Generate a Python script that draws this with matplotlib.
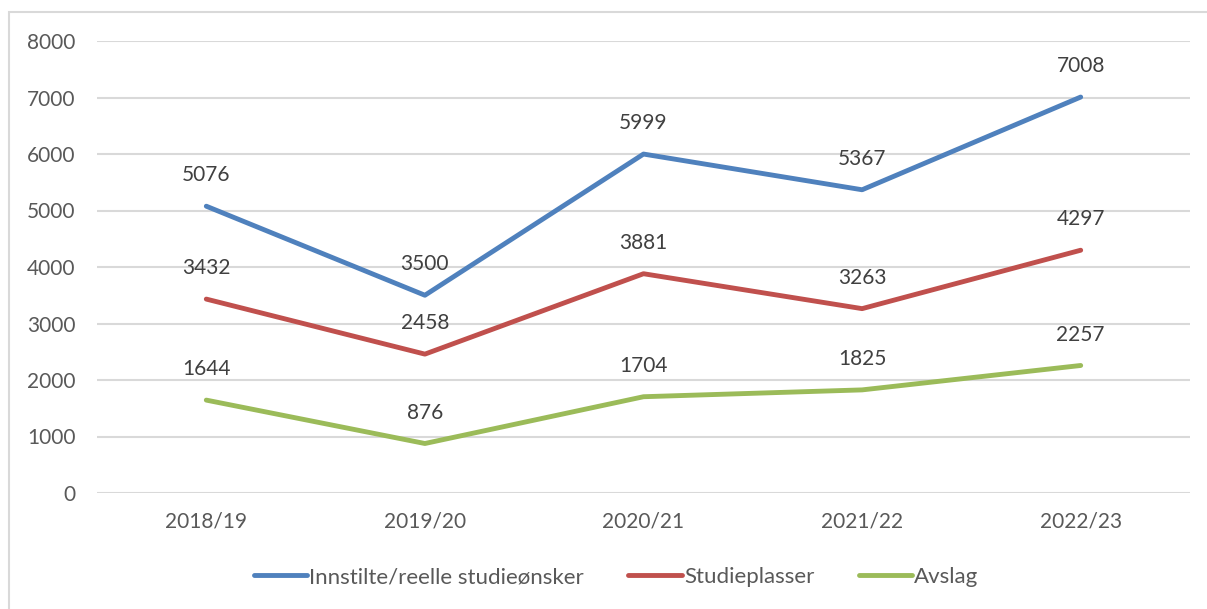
import matplotlib.pyplot as plt
from matplotlib.patches import Rectangle

plt.rcParams['font.family'] = ['Lato', 'DejaVu Sans']

# Data
years = ["2018/19", "2019/20", "2020/21", "2021/22", "2022/23"]
innstilte = [5076, 3500, 5999, 5367, 7008]
studieplasser = [3432, 2458, 3881, 3263, 4297]
avslag = [1644, 876, 1704, 1825, 2257]

series = [
    ("Innstilte/reelle studieønsker", innstilte, "#4F81BD"),
    ("Studieplasser", studieplasser, "#C0504D"),
    ("Avslag", avslag, "#9BBB59"),
]

W, H = 1207, 609
fig = plt.figure(figsize=(W / 100, H / 100), dpi=100)
# plot area in pixels: x 97..1190, y 41..493
ax = fig.add_axes([97 / W, 1 - 493 / H, (1190 - 97) / W, (493 - 41) / H])

# outer chart border
fig.patches.append(Rectangle((9 / W, -0.1), 1.2, 1 - 12 / H + 0.1,
                             transform=fig.transFigure, fill=False,
                             edgecolor="#D9D9D9", linewidth=1.5))

x = range(len(years))
for name, vals, col in series:
    ax.plot(x, vals, color=col, linewidth=3.5, label=name,
            solid_capstyle="round", solid_joinstyle="round")
    for xi, v in zip(x, vals):
        ax.annotate(str(v), (xi, v), xytext=(0, 15), textcoords="offset points",
                    ha="center", va="bottom", fontsize=15, color="#404040")

ax.set_xlim(-0.5, len(years) - 0.5)
ax.set_ylim(0, 8000)
ax.set_yticks(range(0, 8001, 1000))
ax.set_xticks(list(x))
ax.set_xticklabels(years)
ax.grid(axis="y", color="#D9D9D9", linewidth=1.5)
ax.set_axisbelow(True)
for s in ax.spines.values():
    s.set_visible(False)
ax.tick_params(length=0, labelsize=15, labelcolor="#595959")
ax.tick_params(axis="y", pad=15.5)
ax.tick_params(axis="x", pad=13)

leg = fig.legend(loc="center", bbox_to_anchor=(616 / W, 1 - 577 / H), ncol=3,
                 frameon=False, fontsize=16, handlelength=2.4,
                 handletextpad=0.1, columnspacing=2.0)
for t in leg.get_texts():
    t.set_color("#595959")

fig.savefig("out.png", dpi=100)
